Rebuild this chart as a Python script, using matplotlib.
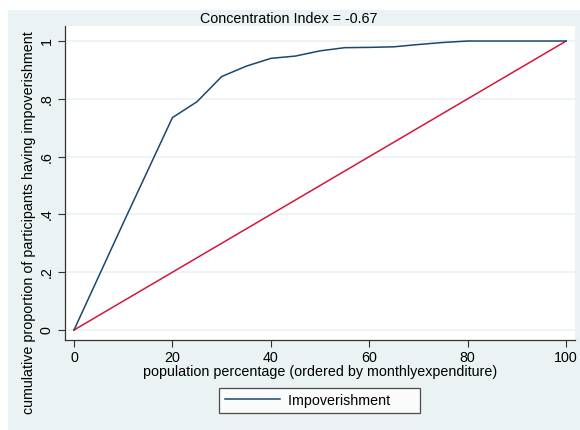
import matplotlib.pyplot as plt
from matplotlib.patches import Rectangle

# concentration curve (population % vs cumulative proportion)
pop_pct = [0, 10, 20, 25, 30, 35, 40, 45, 50, 55, 60, 65, 70, 75, 80, 85, 90, 95, 100]
cum_prop = [0, 0.37, 0.735, 0.79, 0.877, 0.913, 0.94, 0.948, 0.966, 0.977, 0.978, 0.98,
            0.988, 0.995, 1.0, 1.0, 1.0, 1.0, 1.0]
equality_x = [0, 100]
equality_y = [0, 1]

x_ticks = [0, 20, 40, 60, 80, 100]
y_ticks = [0, 0.2, 0.4, 0.6, 0.8, 1.0]
y_tick_labels = ['0', '.2', '.4', '.6', '.8', '1']

plt.rcParams['font.family'] = ['Liberation Sans', 'DejaVu Sans']

bg = '#EAF2F3'
W, H = 580, 430
fs = 10.3
fig = plt.figure(figsize=(5.8, 4.3), dpi=100, facecolor='white')
# stata graph region (the screenshot has a thin white margin top/left)
fig.patches.append(Rectangle((8 / W, 0), 1, 1 - 10 / H, transform=fig.transFigure,
                             facecolor=bg, edgecolor='none', zorder=-1))

ax = fig.add_axes([65 / W, 90 / H, 510 / W, 314 / H])
ax.set_facecolor('white')

for yt in y_ticks:
  ax.axhline(yt, color=bg, lw=1.2, zorder=0)

line, = ax.plot(pop_pct, cum_prop, color='#1A476F', lw=1.1, zorder=3)
ax.plot(equality_x, equality_y, color='#D4163C', lw=1.1, zorder=2)

ax.set_xlim(-1.83, 101.8)
ax.set_ylim(-0.0346, 1.052)
ax.set_xticks(x_ticks)
ax.set_yticks(y_ticks)
ax.set_yticklabels(y_tick_labels, rotation=90, va='center')
ax.tick_params(axis='both', labelsize=fs, length=5, width=0.8, color='#333333', pad=3)

for s in ['top', 'right']:
  ax.spines[s].set_visible(False)
for s in ['left', 'bottom']:
  ax.spines[s].set_color('#333333')
  ax.spines[s].set_linewidth(0.9)

ax.set_xlabel('population percentage (ordered by monthlyexpenditure)', fontsize=fs, labelpad=0)
fig.text(29 / W, 1 - 223 / H, 'cumulative proportion of participants having impoverishment',
         rotation=90, ha='center', va='center', fontsize=fs)

fig.text(289 / W, 1 - 19 / H, 'Concentration Index = -0.67', ha='center', va='center', fontsize=fs)

leg = fig.legend([line], ['Impoverishment      '], loc='center', bbox_to_anchor=(319.5 / W, 1 - 400.5 / H),
                 fontsize=fs, frameon=True, fancybox=False, handlelength=3.9, borderpad=0.4,
                 handletextpad=0.56, borderaxespad=0)
leg.get_frame().set_edgecolor('#222222')
leg.get_frame().set_linewidth(0.9)
leg.get_frame().set_facecolor('white')

fig.savefig('out.png', dpi=100, facecolor='white')
